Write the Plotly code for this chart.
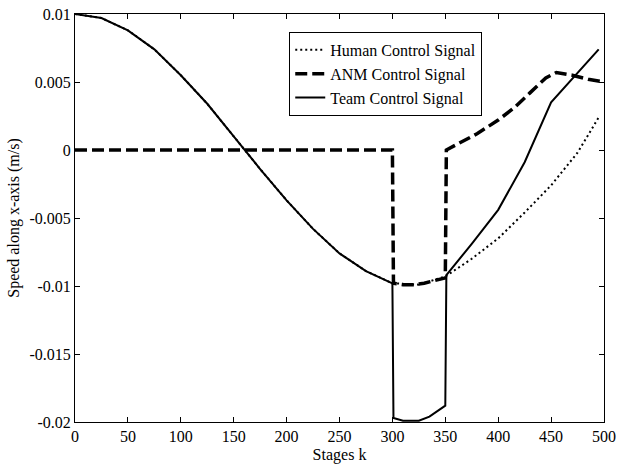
import plotly.graph_objects as go

# Stage indices and control signals (speed along x-axis, m/s)
k_human = [0, 25, 50, 75, 100, 125, 150, 175, 200, 225, 250, 275, 300,
           325, 350, 375, 400, 425, 450, 475, 495]
human = [0.0100, 0.0097, 0.0088, 0.0074, 0.0055, 0.0034, 0.0010, -0.0014,
         -0.0037, -0.0058, -0.0076, -0.0089, -0.0098, -0.0099, -0.0093,
         -0.0080, -0.0065, -0.0046, -0.0026, -0.0002, 0.0024]

k_anm = [0, 300, 301, 310, 320, 330, 340, 350, 351, 365, 380, 400, 415,
         430, 445, 455, 470, 485, 500]
anm = [0.0, 0.0, -0.0098, -0.0099, -0.0099, -0.0098, -0.0096, -0.0094,
       0.0000, 0.0006, 0.0012, 0.0022, 0.0031, 0.0042, 0.0053, 0.0057,
       0.0055, 0.0052, 0.0050]

k_team = [0, 25, 50, 75, 100, 125, 150, 175, 200, 225, 250, 275, 300,
          301, 310, 320, 325, 335, 343, 350, 351, 375, 400, 425, 450, 475, 495]
team = [0.0100, 0.0097, 0.0088, 0.0074, 0.0055, 0.0034, 0.0010, -0.0014,
        -0.0037, -0.0058, -0.0076, -0.0089, -0.0098,
        -0.0197, -0.0199, -0.0199, -0.0199, -0.0196, -0.0192, -0.0188,
        -0.0092, -0.0069, -0.0044, -0.0009, 0.0035, 0.0057, 0.0074]

x_ticks = [0, 50, 100, 150, 200, 250, 300, 350, 400, 450, 500]
y_ticks = [-0.02, -0.015, -0.01, -0.005, 0, 0.005, 0.01]
y_tick_text = ["-0.02", "-0.015", "-0.01", "-0.005", "0", "0.005", "0.01"]

FONT = "Liberation Serif, Times New Roman, serif"

fig = go.Figure()
fig.add_trace(go.Scatter(x=k_human, y=human, mode="lines",
                         name="Human Control Signal",
                         line=dict(color="black", width=2, dash="2px,3px")))
fig.add_trace(go.Scatter(x=k_anm, y=anm, mode="lines",
                         name="ANM Control Signal",
                         line=dict(color="black", width=3.5, dash="12px,5px")))
fig.add_trace(go.Scatter(x=k_team, y=team, mode="lines",
                         name="Team Control Signal",
                         line=dict(color="black", width=2)))

axis_common = dict(showline=True, linecolor="black", linewidth=1,
                   mirror="ticks", ticks="inside", ticklen=5,
                   tickcolor="black", showgrid=False, zeroline=False,
                   automargin=False,
                   tickfont=dict(family=FONT, size=16, color="black"))

fig.update_xaxes(range=[0, 500], tickvals=x_ticks,
                 title=dict(text="Stages k", standoff=6,
                            font=dict(family=FONT, size=16, color="black")),
                 **axis_common)
fig.update_yaxes(range=[-0.02, 0.01], tickvals=y_ticks, ticktext=y_tick_text,
                 title=dict(text="Speed along x-axis (m/s)", standoff=5,
                            font=dict(family=FONT, size=16, color="black")),
                 **axis_common)

fig.update_layout(
    width=624, height=464,
    margin=dict(l=75, r=20, t=14, b=42),
    paper_bgcolor="white", plot_bgcolor="white",
    font=dict(family=FONT, size=16, color="black"),
    legend=dict(x=0.405, y=0.956, xanchor="left", yanchor="top",
                bgcolor="white", bordercolor="black", borderwidth=1,
                font=dict(family=FONT, size=16, color="black"),
                tracegroupgap=0),
    showlegend=True,
)

fig.write_html("out.html")
